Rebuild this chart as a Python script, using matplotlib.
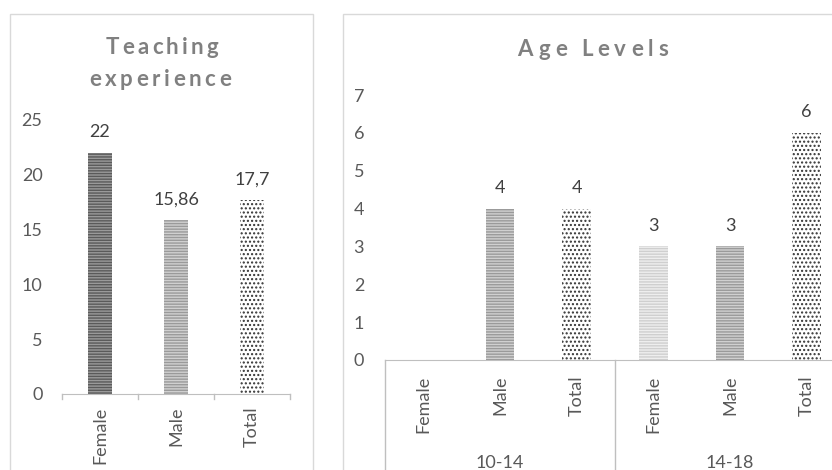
import matplotlib.pyplot as plt
import matplotlib.transforms as mtransforms
from matplotlib.patches import Rectangle
from matplotlib.font_manager import FontProperties
import numpy as np

plt.rcParams['font.family'] = ['Lato', 'DejaVu Sans']
plt.rcParams['hatch.linewidth'] = 1.0

# data
teach_cats = ['Female', 'Male', 'Total']
teach_vals = [22, 15.86, 17.7]
teach_text = ['22', '15,86', '17,7']

age_groups = ['10-14', '14-18']
age_cats = ['Female', 'Male', 'Total']
age_10_14 = [np.nan, 4, 4]
age_14_18 = [3, 3, 6]

# bar styles: facecolor, hatch colour, hatch
dark = ('#9a9a9a', '#5a5a5a', '------')
mid = ('#d0d0d0', '#9a9a9a', '------')
light = ('#eeeeee', '#cfcfcf', '------')
dots = ('white', '#333333', '....')

tick_col = '#595959'
lab_col = '#404040'
axis_col = '#bfbfbf'
title_col = '#808080'
fs = 13


def draw_bars(ax, xs, vals, styles, width):
    for x, v, st in zip(xs, vals, styles):
        if np.isnan(v):
            continue
        ax.bar(x, v, width=width, color=st[0], edgecolor=st[1], hatch=st[2], linewidth=0)


def spaced_title(fig, xc, yc, s, size, gap):
    # letter-spaced title, placed char by char (coords in pixels from top-left)
    r = fig.canvas.get_renderer()
    prop = FontProperties(family='Lato', weight='bold', size=size)
    widths = [r.get_text_width_height_descent(ch, prop, ismath=False)[0] if ch != ' '
              else size * 0.25 for ch in s]
    total = sum(widths) + gap * (len(s) - 1)
    x = xc - total / 2
    for ch, w in zip(s, widths):
        fig.text(x / 832, 1 - yc / 470, ch, ha='left', va='center', fontproperties=prop, color=title_col)
        x += w + gap


fig = plt.figure(figsize=(8.32, 4.70), dpi=100)

# panel frames
fig.patches.append(Rectangle((10 / 832, -0.05), 303 / 832, 1.05 - 14 / 470, transform=fig.transFigure,
                             fill=False, edgecolor='#d9d9d9', lw=1))
fig.patches.append(Rectangle((343 / 832, -0.05), 600 / 832, 1.05 - 14 / 470, transform=fig.transFigure,
                             fill=False, edgecolor='#d9d9d9', lw=1))

# ---- left chart: teaching experience
ax1 = fig.add_axes([62 / 832, 1 - 394 / 470, 228 / 832, 274 / 470])
x1 = np.arange(len(teach_cats))
draw_bars(ax1, x1, teach_vals, [dark, mid, dots], 0.32)
for x, v, t in zip(x1, teach_vals, teach_text):
    ax1.annotate(t, (x, v), xytext=(0, 9), textcoords='offset points', ha='center', va='bottom',
                 fontsize=fs, color=lab_col)
ax1.set_xlim(-0.5, 2.5)
ax1.set_ylim(0, 25)
ax1.set_yticks(range(0, 26, 5))
ax1.set_xticks(x1)
ax1.set_xticklabels(teach_cats, rotation=90, fontsize=fs, color=tick_col)
ax1.tick_params(axis='x', length=0, pad=9)
ax1.tick_params(axis='y', length=0, pad=14, labelsize=fs, labelcolor=tick_col)
for s in ['top', 'right', 'left']:
    ax1.spines[s].set_visible(False)
ax1.spines['bottom'].set_color(axis_col)
tr1 = mtransforms.blended_transform_factory(ax1.transData, ax1.transAxes)
for b in [-0.5, 0.5, 1.5, 2.5]:
    ax1.plot([b, b], [0, -0.018], transform=tr1, color=axis_col, lw=1, clip_on=False)
spaced_title(fig, 162, 48, 'Teaching', 16, 3.3)
spaced_title(fig, 160, 80, 'experience', 16, 3.6)

# ---- right chart: age levels
ax2 = fig.add_axes([385 / 832, 1 - 360 / 470, 460 / 832, 265 / 470])
x2 = np.arange(len(age_groups) * len(age_cats))
vals2 = age_10_14 + age_14_18
draw_bars(ax2, x2, vals2, [mid, mid, dots, light, mid, dots], 0.37)
for x, v in zip(x2, vals2):
    if np.isnan(v):
        continue
    ax2.annotate(f'{v:g}', (x, v), xytext=(0, 9), textcoords='offset points', ha='center', va='bottom',
                 fontsize=fs, color=lab_col)
ax2.set_xlim(-0.5, len(x2) - 0.5)
ax2.set_ylim(0, 7)
ax2.set_yticks(range(0, 8))
ax2.set_xticks(x2)
ax2.set_xticklabels(age_cats * len(age_groups), rotation=90, fontsize=fs, color=tick_col)
ax2.tick_params(axis='x', length=0, pad=11)
ax2.tick_params(axis='y', length=0, pad=15, labelsize=fs, labelcolor=tick_col)
for s in ['top', 'right', 'left']:
    ax2.spines[s].set_visible(False)
ax2.spines['bottom'].set_color(axis_col)
tr2 = mtransforms.blended_transform_factory(ax2.transData, ax2.transAxes)
for b in [-0.5, 2.5, 5.5]:
    ax2.plot([b, b], [0, -0.45], transform=tr2, color=axis_col, lw=1, clip_on=False)
for i, g in enumerate(age_groups):
    ax2.text(i * 3 + 1, -103 / 265, g, transform=tr2, ha='center', va='center', fontsize=fs,
             color=tick_col)
spaced_title(fig, 593, 49, 'Age Levels', 16, 5)

fig.savefig('out.png', dpi=100)
